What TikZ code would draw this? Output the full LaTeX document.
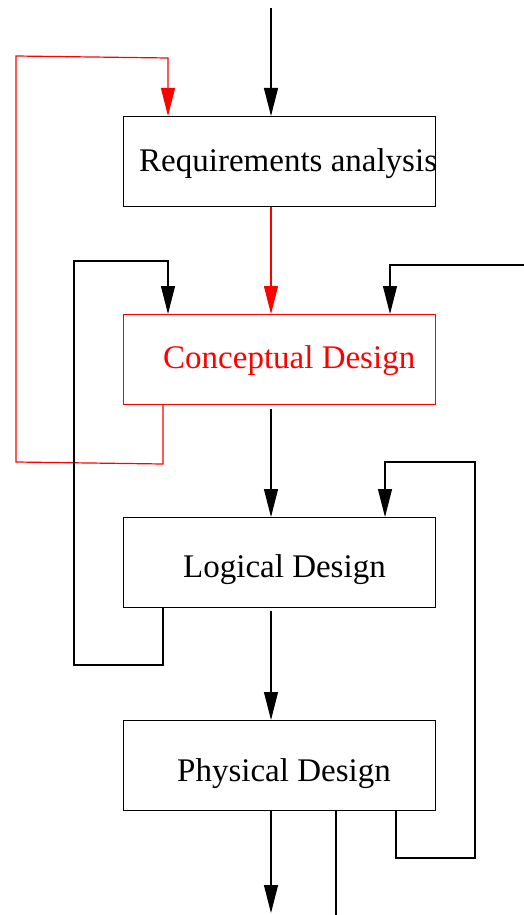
\documentclass[tikz,border=0pt]{standalone}
\usepackage{fontspec}
\setmainfont{Liberation Serif}
\usetikzlibrary{arrows.meta}
\begin{document}
\begin{tikzpicture}[x=1pt,y=-1pt,
  box/.style={draw, line width=1.2pt, minimum width=312pt, minimum height=90pt, inner sep=0pt, anchor=north west},
  lbl/.style={anchor=base west, inner sep=0pt, font=\fontsize{33}{40}\selectfont},
  arr/.style={line width=1.2pt, -{Triangle[length=28pt,width=14pt]}},
  ln/.style={line width=1.2pt}]
\useasboundingbox (0,0) rectangle (524,915);
% boxes
\node[box] (req) at (123,116) {};
\node[box, draw=red] (con) at (123,314) {};
\node[box] (log) at (123,517) {};
\node[box] (phy) at (123,720) {};
% labels
\node[lbl] (reqt) at (139,171) {Requirements analysis};
\node[lbl, text=red] (cont) at (163,368) {Conceptual Design};
\node[lbl] (logt) at (183,577) {Logical Design};
\node[lbl] (phyt) at (177,781) {Physical Design};
% free ends
\coordinate (top) at (271,8);
\coordinate (c2l) at (271,409);
\coordinate (l2p) at (271,611);
\coordinate (out) at (271,913);
\coordinate (out2) at (336,915);
\coordinate (rin) at (524,265);
% main flow
\draw[arr] (top) -- (top |- req.north);
\draw[arr, red] (top |- req.south) -- (top |- con.north);
\draw[arr] (c2l) -- (top |- log.north);
\draw[arr] (l2p) -- (top |- phy.north);
\draw[arr] (top |- phy.south) -- (out);
\draw[ln] (out2 |- phy.south) -- (out2);
% feedback loops
\draw[arr, red] (163,0 |- con.south) -- (163,464) -- (16,462) -- (16,56) -- (168,58) -- (168,0 |- req.north);
\draw[arr] (163,0 |- log.south) -- (163,665) -- (74,665) -- (74,261) -- (168,261) -- (168,0 |- con.north);
\draw[arr] (rin) -- (390,265) -- (390,0 |- con.north);
\draw[arr] (396,0 |- phy.south) -- (396,858) -- (475,858) -- (475,462) -- (385,462) -- (385,0 |- log.north);
\end{tikzpicture}
\end{document}
